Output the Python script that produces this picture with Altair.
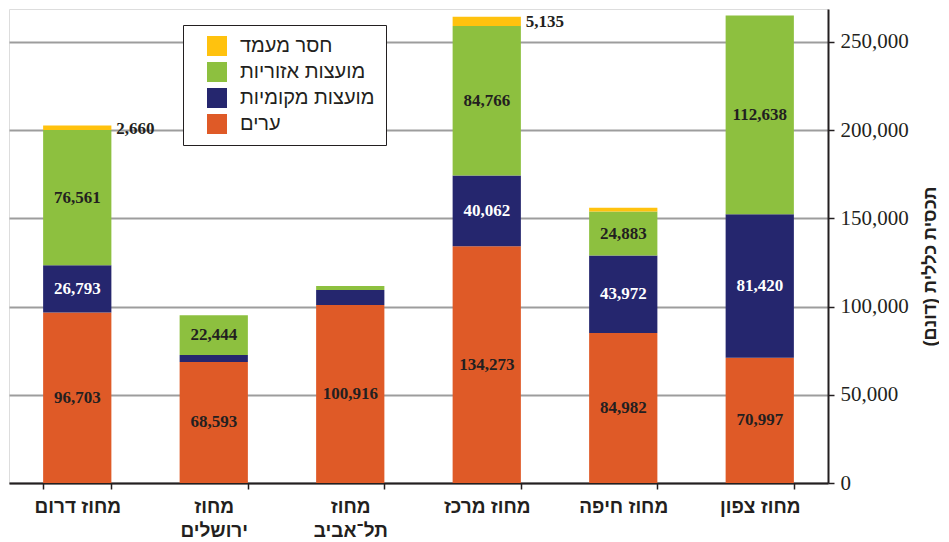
import altair as alt
import pandas as pd

districts = ["מחוז דרום", "מחוז|ירושלים", "מחוז|תל־אביב", "מחוז מרכז", "מחוז חיפה", "מחוז צפון"]
series = ["ערים", "מועצות מקומיות", "מועצות אזוריות", "חסר מעמד"]
legend_order = ["חסר מעמד", "מועצות אזוריות", "מועצות מקומיות", "ערים"]
legend_colors = ["#FFC20E", "#8DC03F", "#25266E", "#DF5A27"]

cities = [96703, 68593, 100916, 134273, 84982, 70997]
local_councils = [26793, 4000, 8500, 40062, 43972, 81420]
regional_councils = [76561, 22444, 2300, 84766, 24883, 112638]
no_status = [2660, 0, 0, 5135, 2200, 0]

cities_shown = [True, True, True, True, True, True]
local_shown = [True, False, False, True, True, True]
regional_shown = [True, True, False, True, True, True]
no_status_shown = [True, False, False, True, False, False]

y_ticks = [0, 50000, 100000, 150000, 200000, 250000]

rows = []
all_vals = [cities, local_councils, regional_councils, no_status]
all_flags = [cities_shown, local_shown, regional_shown, no_status_shown]
for i, d in enumerate(districts):
    for j, s in enumerate(series):
        rows.append(dict(district=d, series=s, order=j, value=all_vals[j][i], show=all_flags[j][i]))
df = pd.DataFrame(rows)

x_enc = alt.X(
    "district:N",
    sort=districts,
    title=None,
    scale=alt.Scale(paddingInner=0.5, paddingOuter=0.25),
    axis=alt.Axis(
        labelAngle=0,
        labelExpr="datum.value ? split(datum.value, '|') : ''",
        labelFont="Liberation Sans",
        labelFontWeight="bold",
        labelFontSize=19,
        labelColor="#231F20",
        labelBaseline="top",
        labelLineHeight=24,
        labelPadding=8,
        tickBand="extent",
        tickSize=6,
        tickColor="#231F20",
        tickWidth=1.5,
        domainColor="#231F20",
        domainWidth=2,
        grid=False,
    ),
)

y_scale = alt.Scale(domain=[0, 268700], nice=False)
y_axis = alt.Axis(
    orient="right",
    values=y_ticks,
    format=",.0f",
    labelFont="Liberation Serif",
    labelFontSize=21,
    labelColor="#231F20",
    labelPadding=6,
    labelFlush=False,
    tickSize=6,
    tickColor="#231F20",
    tickWidth=1.5,
    domainColor="#231F20",
    domainWidth=2,
    gridColor="#9d9d9d",
    gridWidth=2,
    title="תכסית כללית (דונם)\u200F",
    titleFont="Liberation Sans",
    titleFontWeight="bold",
    titleFontSize=18,
    titleColor="#231F20",
    titleAngle=270,
    titleAlign="center",
    titleBaseline="middle",
    titleX=102,
    titleY=257,
)

base = alt.Chart(df).transform_stack(
    stack="value",
    as_=["v0", "v1"],
    groupby=["district"],
    sort=[alt.SortField("order", order="ascending")],
).transform_calculate(mid="(datum.v0 + datum.v1) / 2")

bars = base.mark_bar().encode(
    x=x_enc,
    y=alt.Y("v0:Q", scale=y_scale, axis=y_axis),
    y2="v1:Q",
    color=alt.Color(
        "series:N",
        scale=alt.Scale(domain=legend_order, range=legend_colors),
        legend=alt.Legend(
            title=None,
            orient="none",
            legendX=174,
            legendY=16,
            symbolType="square",
            symbolSize=400,
            symbolStrokeWidth=0,
            symbolOffset=13,
            labelFont="Liberation Sans",
            labelFontSize=20,
            labelColor="#231F20",
            labelOffset=13,
            rowPadding=6,
            padding=11,
            strokeColor="#231F20",
            fillColor="white",
            labelLimit=300,
        ),
    ),
)

inside = base.transform_filter("datum.show && datum.order < 3").mark_text(
    font="Liberation Serif", fontWeight="bold", fontSize=17, baseline="middle"
).encode(
    x=x_enc,
    y=alt.Y("mid:Q", scale=y_scale, axis=y_axis),
    text=alt.Text("value:Q", format=","),
    color=alt.condition("datum.order == 1", alt.value("white"), alt.value("#231F20")),
)

outside = base.transform_filter("datum.show && datum.order == 3").mark_text(
    font="Liberation Serif", fontWeight="bold", fontSize=17, baseline="middle", align="left", dx=39, dy=1,
    color="#231F20",
).encode(
    x=x_enc,
    y=alt.Y("mid:Q", scale=y_scale, axis=y_axis),
    text=alt.Text("value:Q", format=","),
)

chart = alt.layer(bars, inside, outside).properties(
    width=819, height=474, padding={"left": 1, "top": 1, "right": 0, "bottom": 0}
).configure_view(
    stroke="#231F20", strokeWidth=2
).configure_legend(
    strokeWidth=2
).configure(background="white")

chart.save("out.html", embed_options={"renderer": "svg", "actions": False})
